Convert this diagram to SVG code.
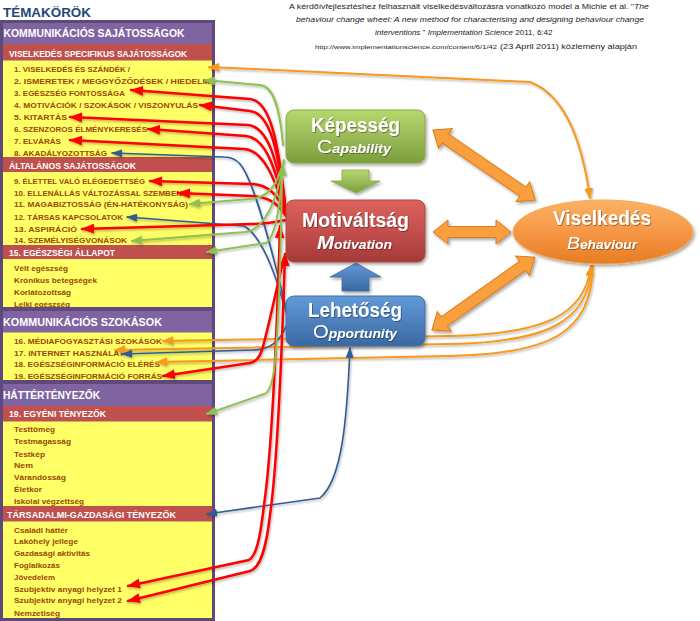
<svg xmlns="http://www.w3.org/2000/svg" width="700" height="621" viewBox="0 0 700 621">
<style>
text{font-family:"Liberation Sans",Arial,sans-serif}
.it{font-size:7.8px;font-weight:bold;fill:#984807}
.hd{font-weight:bold;fill:#fff}
.ref{font-size:8px;fill:#222}
.bt{font-weight:bold;fill:#fff;font-size:20px}
.ln{fill:none;stroke-linecap:round;stroke-linejoin:round}
.r{stroke:#ff0000;stroke-width:2.5}
.g{stroke:#8dc153;stroke-width:2}
.b{stroke:#2f5d95;stroke-width:1.6}
.o{stroke:#f79a1c;stroke-width:2}
.band{fill:#c0504d}
.yel{fill:#ffff66}
.frm{fill:#8064a2}
.frs{fill:none;stroke:#5f497a;stroke-width:3}
.blk{fill:#f8a03c;stroke:#e07a1a;stroke-width:1}
</style>
<defs>
<marker id="mr" markerUnits="userSpaceOnUse" viewBox="0 0 13 10" markerWidth="13" markerHeight="10" refX="12" refY="5" orient="auto-start-reverse"><path d="M0,0 L13,5 L0,10 z" fill="#ff0000"/></marker>
<marker id="mg" markerUnits="userSpaceOnUse" viewBox="0 0 11 9" markerWidth="11" markerHeight="9" refX="10" refY="4.5" orient="auto-start-reverse"><path d="M0,0 L11,4.5 L0,9 z" fill="#8dc153"/></marker>
<marker id="mb" markerUnits="userSpaceOnUse" viewBox="0 0 11 8" markerWidth="11" markerHeight="8" refX="10" refY="4" orient="auto-start-reverse"><path d="M0,0 L11,4 L0,8 z" fill="#2f5d95"/></marker>
<marker id="mo" markerUnits="userSpaceOnUse" viewBox="0 0 11 9" markerWidth="11" markerHeight="9" refX="10" refY="4.5" orient="auto-start-reverse"><path d="M0,0 L11,4.5 L0,9 z" fill="#f79a1c"/></marker>
<linearGradient id="gg" x1="0" y1="0" x2="0" y2="1"><stop offset="0" stop-color="#b5d86c"/><stop offset="0.5" stop-color="#9bbb59"/><stop offset="1" stop-color="#7c9d3c"/></linearGradient>
<linearGradient id="gr" x1="0" y1="0" x2="0" y2="1"><stop offset="0" stop-color="#dc625e"/><stop offset="0.5" stop-color="#c54f4c"/><stop offset="1" stop-color="#a23b38"/></linearGradient>
<linearGradient id="gb" x1="0" y1="0" x2="0" y2="1"><stop offset="0" stop-color="#619ad9"/><stop offset="0.5" stop-color="#4f81bd"/><stop offset="1" stop-color="#3a68a2"/></linearGradient>
<linearGradient id="go" x1="0" y1="0" x2="0" y2="1"><stop offset="0" stop-color="#fbb264"/><stop offset="0.5" stop-color="#f79646"/><stop offset="1" stop-color="#e57d22"/></linearGradient>
<filter id="sh" x="-10%" y="-15%" width="125%" height="140%"><feDropShadow dx="1.5" dy="2" stdDeviation="1.5" flood-color="#000" flood-opacity="0.35"/></filter>
<filter id="lsh" x="-5%" y="-5%" width="110%" height="110%"><feDropShadow dx="1" dy="1.5" stdDeviation="0.8" flood-color="#000" flood-opacity="0.3"/></filter>
<filter id="tsh"><feDropShadow dx="0.8" dy="0.8" stdDeviation="0.5" flood-color="#000" flood-opacity="0.45"/></filter>
<clipPath id="pc"><rect x="3" y="0" width="209" height="621"/></clipPath>
</defs>
<rect width="700" height="621" fill="#fff"/>

<g id="header">
<text x="3" y="17" font-size="13" font-weight="bold" fill="#1f497d" textLength="88" lengthAdjust="spacingAndGlyphs">TÉMAKÖRÖK</text>
<text class="ref" x="289" y="9" textLength="360" lengthAdjust="spacingAndGlyphs">A kérdőívfejlesztéshez felhasznált viselkedésváltozásra vonatkozó model a Michie et al. "<tspan font-style="italic">The</tspan></text>
<text class="ref" x="296" y="21.5" font-style="italic" textLength="348" lengthAdjust="spacingAndGlyphs">behaviour change wheel: A new method for characterising and designing behaviour change</text>
<text class="ref" x="375" y="34.5"><tspan font-style="italic">interventions</tspan> " <tspan font-style="italic">Implementation Science</tspan>  2011, 6:42</text>
<text x="315" y="48.5" font-size="6" fill="#222" textLength="182" lengthAdjust="spacingAndGlyphs">http://www.implementationscience.com/content/6/1/42</text>
<text class="ref" x="500" y="48.5" textLength="137" lengthAdjust="spacingAndGlyphs">(23 April 2011) közlemény alapján</text>
</g>

<g id="panel-kommunikacios-sajatossagok">
<rect class="frm" x="1.5" y="21.5" width="212" height="287"/>
<rect class="band" x="3" y="44" width="209" height="16.5"/>
<rect class="yel" x="3" y="60.5" width="209" height="96.5"/>
<rect class="band" x="3" y="157" width="209" height="15"/>
<rect class="yel" x="3" y="172" width="209" height="73"/>
<rect class="band" x="3" y="245" width="209" height="14"/>
<rect class="yel" x="3" y="259" width="209" height="48"/>
<g clip-path="url(#pc)">
<text class="hd" x="3.5" y="37.3" font-size="10.5" textLength="181" lengthAdjust="spacingAndGlyphs">KOMMUNIKÁCIÓS SAJÁTOSSÁGOK</text>
<text class="hd" x="9" y="56.5" font-size="8.5" textLength="178" lengthAdjust="spacingAndGlyphs">VISELKEDÉS SPECIFIKUS SAJÁTOSSÁGOK</text>
<text class="it" x="14" y="72" textLength="116" lengthAdjust="spacingAndGlyphs">1. VISELKEDÉS ÉS SZÁNDÉK /</text>
<text class="it" x="14" y="84" textLength="208" lengthAdjust="spacingAndGlyphs">2. ISMERETEK / MEGGYŐZŐDÉSEK / HIEDELMEK</text>
<text class="it" x="14" y="96" textLength="111" lengthAdjust="spacingAndGlyphs">3. EGÉSZSÉG FONTOSSÁGA</text>
<text class="it" x="14" y="108" textLength="184" lengthAdjust="spacingAndGlyphs">4. MOTIVÁCIÓK / SZOKÁSOK / VISZONYULÁS</text>
<text class="it" x="14" y="120" textLength="53" lengthAdjust="spacingAndGlyphs">5. KITARTÁS</text>
<text class="it" x="14" y="131.5" textLength="133" lengthAdjust="spacingAndGlyphs">6. SZENZOROS ÉLMÉNYKERESÉS</text>
<text class="it" x="14" y="143.5" textLength="47" lengthAdjust="spacingAndGlyphs">7. ELVÁRÁS</text>
<text class="it" x="14" y="155.5" textLength="93" lengthAdjust="spacingAndGlyphs">8. AKADÁLYOZOTTSÁG</text>
<text class="hd" x="9" y="168.5" font-size="8.5" textLength="127" lengthAdjust="spacingAndGlyphs">ÁLTALÁNOS SAJÁTOSSÁGOK</text>
<text class="it" x="14" y="184" textLength="131" lengthAdjust="spacingAndGlyphs">9. ÉLETTEL VALÓ ELÉGEDETTSÉG</text>
<text class="it" x="14" y="195.7" textLength="168" lengthAdjust="spacingAndGlyphs">10. ELLENÁLLÁS VÁLTOZÁSSAL SZEMBEN</text>
<text class="it" x="14" y="207.3" textLength="174" lengthAdjust="spacingAndGlyphs">11. MAGABIZTOSSÁG (ÉN-HATÉKONYSÁG)</text>
<text class="it" x="14" y="219.7" textLength="109" lengthAdjust="spacingAndGlyphs">12. TÁRSAS KAPCSOLATOK</text>
<text class="it" x="14" y="231.7" textLength="63" lengthAdjust="spacingAndGlyphs">13. ASPIRÁCIÓ</text>
<text class="it" x="14" y="243.3" textLength="113" lengthAdjust="spacingAndGlyphs">14. SZEMÉLYISÉGVONÁSOK</text>
<text class="hd" x="9" y="256" font-size="8.5" textLength="106" lengthAdjust="spacingAndGlyphs">15. EGÉSZSÉGI ÁLLAPOT</text>
<text class="it" x="14" y="271" textLength="54" lengthAdjust="spacingAndGlyphs">Vélt egészség</text>
<text class="it" x="14" y="283" textLength="83" lengthAdjust="spacingAndGlyphs">Krónikus betegségek</text>
<text class="it" x="14" y="295" textLength="57" lengthAdjust="spacingAndGlyphs">Korlátozottság</text>
<text class="it" x="14" y="306.5" textLength="56" lengthAdjust="spacingAndGlyphs">Lelki egészség</text>
</g>
<rect class="frs" x="1.5" y="21.5" width="212" height="287"/>
</g>

<g id="panel-kommunikacios-szokasok">
<rect class="frm" x="1.5" y="309.5" width="212" height="72"/>
<rect class="yel" x="3" y="332.5" width="209" height="47.5"/>
<g clip-path="url(#pc)">
<text class="hd" x="3" y="326" font-size="10.5" textLength="159" lengthAdjust="spacingAndGlyphs">KOMMUNIKÁCIÓS SZOKÁSOK</text>
<text class="it" x="14" y="344" textLength="148" lengthAdjust="spacingAndGlyphs">16. MÉDIAFOGYASZTÁSI SZOKÁSOK</text>
<text class="it" x="14" y="355.7" textLength="110" lengthAdjust="spacingAndGlyphs">17. INTERNET HASZNÁLAT</text>
<text class="it" x="14" y="367.3" textLength="146" lengthAdjust="spacingAndGlyphs">18. EGÉSZSÉGINFORMÁCIÓ ELÉRÉS</text>
<text class="it" x="14" y="379.3" textLength="148" lengthAdjust="spacingAndGlyphs">19. EGÉSZSÉGINFORMÁCIÓ FORRÁS</text>
</g>
<rect class="frs" x="1.5" y="309.5" width="212" height="72"/>
</g>

<g id="panel-hattertenyezok">
<rect class="frm" x="1.5" y="382.5" width="212" height="237"/>
<rect class="band" x="3" y="406" width="209" height="15.5"/>
<rect class="yel" x="3" y="421.5" width="209" height="84.5"/>
<rect class="band" x="3" y="506" width="209" height="15.5"/>
<rect class="yel" x="3" y="521.5" width="209" height="96.5"/>
<g clip-path="url(#pc)">
<text class="hd" x="3" y="399" font-size="11" textLength="97" lengthAdjust="spacingAndGlyphs">HÁTTÉRTÉNYEZŐK</text>
<text class="hd" x="9" y="417.3" font-size="8.5" textLength="97" lengthAdjust="spacingAndGlyphs">19. EGYÉNI TÉNYEZŐK</text>
<text class="it" x="14" y="432.3" textLength="41" lengthAdjust="spacingAndGlyphs">Testtömeg</text>
<text class="it" x="14" y="444" textLength="57" lengthAdjust="spacingAndGlyphs">Testmagasság</text>
<text class="it" x="14" y="456.7" textLength="31" lengthAdjust="spacingAndGlyphs">Testkép</text>
<text class="it" x="14" y="468.3" textLength="19" lengthAdjust="spacingAndGlyphs">Nem</text>
<text class="it" x="14" y="480" textLength="52" lengthAdjust="spacingAndGlyphs">Várandósság</text>
<text class="it" x="14" y="492.3" textLength="28" lengthAdjust="spacingAndGlyphs">Életkor</text>
<text class="it" x="14" y="504" textLength="70" lengthAdjust="spacingAndGlyphs">Iskolai végzettség</text>
<text class="hd" x="7" y="517.5" font-size="9" textLength="169" lengthAdjust="spacingAndGlyphs">TÁRSADALMI-GAZDASÁGI TÉNYEZŐK</text>
<text class="it" x="14" y="532.7" textLength="54" lengthAdjust="spacingAndGlyphs">Családi háttér</text>
<text class="it" x="14" y="544.3" textLength="64" lengthAdjust="spacingAndGlyphs">Lakóhely jellege</text>
<text class="it" x="14" y="556" textLength="76" lengthAdjust="spacingAndGlyphs">Gazdasági aktivitás</text>
<text class="it" x="14" y="568.3" textLength="46" lengthAdjust="spacingAndGlyphs">Foglalkozás</text>
<text class="it" x="14" y="580" textLength="41" lengthAdjust="spacingAndGlyphs">Jövedelem</text>
<text class="it" x="14" y="591.7" textLength="108" lengthAdjust="spacingAndGlyphs">Szubjektív anyagi helyzet 1</text>
<text class="it" x="14" y="603.3" textLength="108" lengthAdjust="spacingAndGlyphs">Szubjektív anyagi helyzet 2</text>
<text class="it" x="14" y="615.7" textLength="46" lengthAdjust="spacingAndGlyphs">Nemzetiség</text>
</g>
<rect class="frs" x="1.5" y="382.5" width="212" height="237"/>
</g>

<g id="connectors" filter="url(#lsh)">
<path class="ln o" d="M590,198 C582,140 565,95 530,82 L209,67" marker-start="url(#mo)" marker-end="url(#mo)"/>
<path class="ln o" d="M591,266 C585,315 545,334 450,336 L163,341" marker-start="url(#mo)" marker-end="url(#mo)"/>
<path class="ln o" d="M592,266 C588,322 548,342 450,344 L115,350" marker-end="url(#mo)"/>
<path class="ln o" d="M593,266 C591,332 552,354 450,356 L157,362" marker-end="url(#mo)"/>
<path class="ln b" d="M286,308 C272,250 254,180 240,164 Q234,157 224,157 L112,153" marker-end="url(#mb)"/>
<path class="ln b" d="M286,312 C276,275 262,236 244,226 L127,217" marker-end="url(#mb)"/>
<path class="ln b" d="M286,326 C280,342 268,350 253,350 L122,354" marker-end="url(#mb)"/>
<path class="ln b" d="M350,348 C347,420 342,480 320,498 L207,514" marker-start="url(#mb)" marker-end="url(#mb)"/>
<path class="ln r" d="M285,203 C278,140 270,101 250,99 L131,90" marker-end="url(#mr)"/>
<path class="ln r" d="M285,205 C278,150 270,113 250,111 L200,105" marker-end="url(#mr)"/>
<path class="ln r" d="M285,207 C277,160 268,127 248,125 L70,117" marker-end="url(#mr)"/>
<path class="ln r" d="M285,209 C276,170 266,138 246,136 L148,129" marker-end="url(#mr)"/>
<path class="ln r" d="M285,211 C275,180 264,150 244,149 L70,140" marker-end="url(#mr)"/>
<path class="ln r" d="M286,214 C278,196 270,185 252,184 L150,181" marker-end="url(#mr)"/>
<path class="ln r" d="M286,216 C278,204 270,197 252,196 L178,193" marker-end="url(#mr)"/>
<path class="ln r" d="M286,220 C276,222 266,224 252,224 L82,229" marker-end="url(#mr)"/>
<path class="ln r" d="M284,258 C276,290 268,330 262,350 Q258,362 250,363 L163,376" marker-end="url(#mr)"/>
<path class="ln r" d="M280,226 C277,330 272,450 264,505 C260,540 256,556 249,560 L128,586" marker-start="url(#mr)" marker-end="url(#mr)"/>
<path class="ln r" d="M285,254 C282,350 278,460 270,515 C266,550 260,568 250,571 L128,601" marker-start="url(#mr)" marker-end="url(#mr)"/>
<path class="ln g" d="M283,145 C280,110 274,86 260,85 L205,80" marker-end="url(#mg)"/>
<path class="ln g" d="M284,160 C278,185 268,198 250,199 L190,204" marker-end="url(#mg)"/>
<path class="ln g" d="M284,162 C276,205 264,230 245,232 L132,241" marker-end="url(#mg)"/>
<path class="ln g" d="M283,165 C280,205 276,236 266,243 L207,252" marker-start="url(#mg)" marker-end="url(#mg)"/>
<path class="ln g" d="M282,166 C281,250 279,330 274,370 Q271,392 264,394 L207,414" marker-start="url(#mg)" marker-end="url(#mg)"/>
</g>

<g id="arrows-between" filter="url(#sh)">
<polygon points="342,170 369,170 369,181 380,181 356,193 331,181 342,181" fill="url(#gg)" stroke="#86a944" stroke-width="0.8"/>
<polygon points="356,263 381,277 369,277 369,291 342,291 342,277 330,277" fill="url(#gb)" stroke="#41709f" stroke-width="0.8"/>
<polygon class="blk" transform="translate(433,130) rotate(34.46)" points="0,0 15,-12 15,-5.5 109,-5.5 109,-12 124,0 109,12 109,5.5 15,5.5 15,12"/>
<polygon class="blk" transform="translate(433,232)" points="0,0 15,-12 15,-5.5 63,-5.5 63,-12 78,0 63,12 63,5.5 15,5.5 15,12"/>
<polygon class="blk" transform="translate(432,330) rotate(-35.33)" points="0,0 15,-12 15,-5.5 111,-5.5 111,-12 126,0 111,12 111,5.5 15,5.5 15,12"/>
</g>

<g id="node-kepesseg">
<rect x="286" y="110" width="139" height="53" rx="8" fill="url(#gg)" stroke="#86a944" filter="url(#sh)"/>
<g filter="url(#tsh)">
<text class="bt" x="355.5" y="132" text-anchor="middle" textLength="89" lengthAdjust="spacingAndGlyphs">Képesség</text>
<text x="317" y="153" fill="#fff" textLength="74" lengthAdjust="spacingAndGlyphs"><tspan font-size="19">C</tspan><tspan font-size="13" font-weight="bold" font-style="italic">apability</tspan></text>
</g>
</g>

<g id="node-motivaltsag">
<rect x="286" y="200" width="139" height="62" rx="8" fill="url(#gr)" stroke="#b04643" filter="url(#sh)"/>
<g filter="url(#tsh)">
<text class="bt" x="355.5" y="227" text-anchor="middle" textLength="107" lengthAdjust="spacingAndGlyphs">Motiváltság</text>
<text x="317" y="249" fill="#fff" font-weight="bold" font-style="italic" textLength="75" lengthAdjust="spacingAndGlyphs"><tspan font-size="19">M</tspan><tspan font-size="13">otivation</tspan></text>
</g>
</g>

<g id="node-lehetoseg">
<rect x="286" y="296" width="139" height="50" rx="8" fill="url(#gb)" stroke="#41709f" filter="url(#sh)"/>
<g filter="url(#tsh)">
<text class="bt" x="355" y="317" text-anchor="middle" textLength="94" lengthAdjust="spacingAndGlyphs">Lehetőség</text>
<text x="313" y="338" fill="#fff" textLength="84" lengthAdjust="spacingAndGlyphs"><tspan font-size="19">O</tspan><tspan font-size="13" font-weight="bold" font-style="italic">pportunity</tspan></text>
</g>
</g>

<g id="node-viselkedes">
<ellipse cx="603" cy="232" rx="90" ry="32" fill="url(#go)" stroke="#f6a857" filter="url(#sh)"/>
<g filter="url(#tsh)">
<text class="bt" x="602" y="225" text-anchor="middle" textLength="98" lengthAdjust="spacingAndGlyphs">Viselkedés</text>
<text x="567" y="249" fill="#fff" font-style="italic" textLength="70" lengthAdjust="spacingAndGlyphs"><tspan font-size="17">B</tspan><tspan font-size="12" font-weight="bold">ehaviour</tspan></text>
</g>
</g>
</svg>
